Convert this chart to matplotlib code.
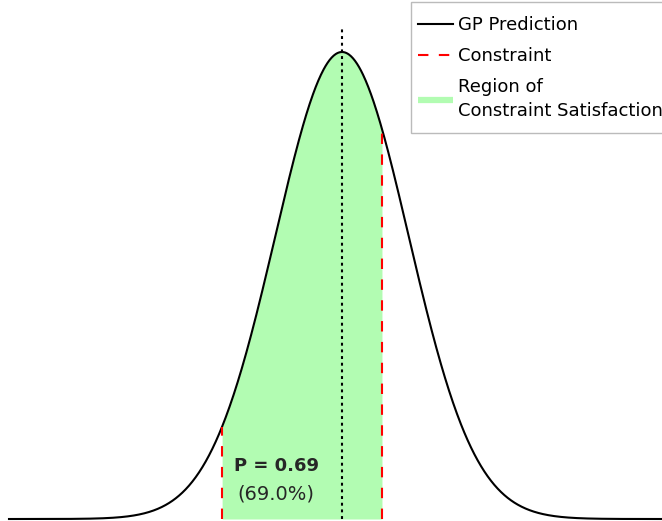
import numpy as np
import matplotlib
matplotlib.use("Agg")
import matplotlib.pyplot as plt
from matplotlib.lines import Line2D
from matplotlib.patches import Rectangle

# data
mean = 0.0
std = 1.0
x_range = [-5.0, 5.0]
lower_bound = -1.8
upper_bound = 0.6
prob_text = "P = 0.69"
pct_text = "(69.0%)"
legend_labels = ["GP Prediction", "Constraint", "Region of\nConstraint Satisfaction"]

x = np.linspace(x_range[0], x_range[1], 1000)
f = lambda v: np.exp(-0.5 * ((v - mean) / std) ** 2) / (std * np.sqrt(2 * np.pi))
pdf = f(x)
peak = pdf.max()

W, H = 662, 521
fig = plt.figure(figsize=(W / 100, H / 100), dpi=100)
ax = fig.add_axes([0, 0, 1, 1])
ax.set_axis_off()

fill_color = 'palegreen'
fill_alpha = 0.75
dash = (0, (5, 5))

xs = np.linspace(lower_bound, upper_bound, 400)
ax.fill_between(xs, 0, f(xs), color=fill_color, alpha=fill_alpha, linewidth=0, zorder=1)
ax.plot([mean, mean], [0, peak * 1.054], color='black', ls=(0, (1.4, 1.8)), lw=1.5, zorder=2)
ax.plot(x, pdf, color='black', lw=1.5, zorder=3)
ax.plot([lower_bound, lower_bound], [0, f(lower_bound)], color='red', ls=dash, lw=1.5, zorder=4)
ax.plot([upper_bound, upper_bound], [0, f(upper_bound)], color='red', ls=dash, lw=1.5, zorder=4)

ax.text(-0.99, 0.045, prob_text, ha='center', va='center', fontsize=13, fontweight='bold',
        color='#262626', zorder=5)
ax.text(-0.99, 0.0213, pct_text, ha='center', va='center', fontsize=14, color='#262626', zorder=5)

px = 66.6
ax.set_xlim(mean - 342 / px, mean + (W - 342) / px)
ax.set_ylim(-0.0017, peak + 52 / (467 / peak))

# legend frame drawn separately
frame = Rectangle((411 / W, 1 - 133 / H), 300 / W, 131 / H, transform=fig.transFigure,
                  facecolor='white', edgecolor='#bbbbbb', linewidth=1, zorder=10)
fig.patches.append(frame)

handles = [
    Line2D([], [], color='black', lw=1.5),
    Line2D([], [], color='red', lw=1.5, ls=dash),
    Line2D([], [], color=fill_color, alpha=fill_alpha, lw=4.5, solid_capstyle='butt'),
]
leg = fig.legend(handles, legend_labels,
                 loc='upper left', bbox_to_anchor=(404 / W, 1 - 2 / H),
                 fontsize=13, frameon=False,
                 borderaxespad=0, handlelength=1.9, handletextpad=0.3,
                 borderpad=0.8, labelspacing=0.7)
leg.set_zorder(11)
for t in leg.get_texts():
    t.set_linespacing(1.45)

fig.savefig("out.png", dpi=100)
